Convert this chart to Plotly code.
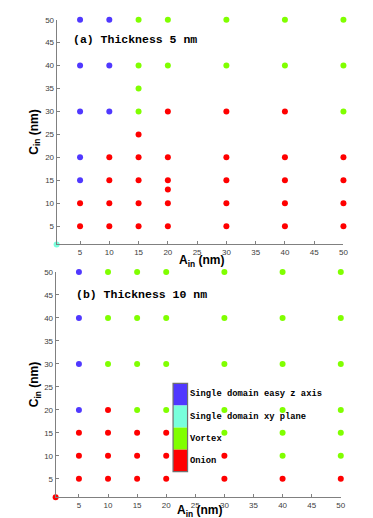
import plotly.graph_objects as go

W, H = 373, 518

# ---- data: panel (a) thickness 5 nm ----
a_easyz_x = [5, 5, 5, 5, 5, 10, 10, 10]
a_easyz_y = [50, 40, 30, 20, 15, 50, 40, 30]
a_xy_x = [1]
a_xy_y = [1]
a_vortex_x = [15, 15, 15, 15, 20, 20, 30, 30, 40, 40, 50, 50, 50]
a_vortex_y = [50, 40, 35, 30, 50, 40, 50, 40, 50, 40, 50, 40, 30]
a_onion_x = [5, 5, 10, 10, 10, 10, 15, 15, 15, 15, 15, 20, 20, 20, 20, 20, 20,
             30, 30, 30, 30, 30, 40, 40, 40, 40, 40, 50, 50, 50, 50]
a_onion_y = [10, 5, 20, 15, 10, 5, 25, 20, 15, 10, 5, 30, 20, 15, 13, 10, 5,
             30, 20, 15, 10, 5, 30, 20, 15, 10, 5, 20, 15, 10, 5]

# ---- data: panel (b) thickness 10 nm ----
b_easyz_x = [5, 5, 5, 5]
b_easyz_y = [50, 40, 30, 20]
b_xy_x = []
b_xy_y = []
b_vortex_x = [10, 10, 10, 15, 15, 15, 15, 20, 20, 20, 20, 30, 30, 30, 30, 30,
              40, 40, 40, 40, 40, 40, 50, 50, 50, 50, 50, 50]
b_vortex_y = [50, 40, 30, 50, 40, 30, 20, 50, 40, 30, 20, 50, 40, 30, 20, 15,
              50, 40, 30, 20, 15, 10, 50, 40, 30, 20, 15, 10]
b_onion_x = [1, 5, 5, 5, 10, 10, 10, 10, 15, 15, 15, 20, 20, 20, 30, 30, 40, 50]
b_onion_y = [1, 15, 10, 5, 20, 15, 10, 5, 15, 10, 5, 15, 10, 5, 10, 5, 5, 5]

tick_vals = [5, 10, 15, 20, 25, 30, 35, 40, 45, 50]
state_labels = ["Single domain easy z axis", "Single domain xy plane", "Vortex", "Onion"]
state_colors = ["#5038ff", "#78ffdc", "#80ff00", "#ff0000"]

fig = go.Figure()

def add_panel(idx, series):
    xa = "x" if idx == 1 else "x2"
    ya = "y" if idx == 1 else "y2"
    for (xs, ys), col in zip(series, state_colors):
        if not xs:
            continue
        fig.add_trace(go.Scatter(
            x=xs, y=ys, mode="markers", xaxis=xa, yaxis=ya,
            marker=dict(color=col, size=6, line=dict(width=0)),
            cliponaxis=False, showlegend=False, hoverinfo="skip"))

add_panel(1, [(a_easyz_x, a_easyz_y), (a_xy_x, a_xy_y), (a_vortex_x, a_vortex_y), (a_onion_x, a_onion_y)])
add_panel(2, [(b_easyz_x, b_easyz_y), (b_xy_x, b_xy_y), (b_vortex_x, b_vortex_y), (b_onion_x, b_onion_y)])

def px(x):
    return x / W

def py(y):
    return 1 - y / H

axis_common = dict(
    range=[1, 50], tickvals=tick_vals, ticks="inside", ticklen=3, tickcolor="#808080",
    showline=True, linecolor="#808080", linewidth=1, showgrid=False, zeroline=False,
    tickfont=dict(family="Liberation Sans", size=8, color="#404040"),
    mirror=False,
)

fig.update_layout(
    width=W, height=H, margin=dict(l=0, r=0, t=0, b=0),
    plot_bgcolor="white", paper_bgcolor="white",
    xaxis=dict(domain=[px(49.3), px(340)], anchor="y", **axis_common),
    yaxis=dict(domain=[py(234.3), py(7.8)], anchor="x", **axis_common),
    xaxis2=dict(domain=[px(48.3), px(337.3)], anchor="y2", **axis_common),
    yaxis2=dict(domain=[py(489), py(262)], anchor="x2", **axis_common),
)

anns = []
title_font = dict(family="Liberation Sans", size=12, color="black")
for cx, cy in [(196, 251), (194, 503)]:
    anns.append(dict(x=px(cx), y=py(cy), xref="paper", yref="paper", showarrow=False,
                     text="<b>A<sub>in</sub> (nm)</b>", font=title_font,
                     xanchor="center", yanchor="middle"))
for cx, cy in [(27, 121), (27, 375.5)]:
    anns.append(dict(x=px(cx), y=py(cy), xref="paper", yref="paper", showarrow=False,
                     text="<b>C<sub>in</sub> (nm)</b>", font=title_font, textangle=-90,
                     xanchor="center", yanchor="middle"))

panel_font = dict(family="Liberation Mono", size=11.5, color="black")
anns.append(dict(x=px(64), y=py(28), xref="paper", yref="paper", showarrow=False,
                 text="<b>(a) Thickness 5 nm</b>", font=panel_font, xanchor="left", yanchor="middle"))
anns.append(dict(x=px(67), y=py(285), xref="paper", yref="paper", showarrow=False,
                 text="<b>(b) Thickness 10 nm</b>", font=panel_font, xanchor="left", yanchor="middle"))

# colour key
shapes = []
x0, x1 = 167.3, 182
top, bot = 374.3, 463.3
seg = (bot - top) / len(state_colors)
for i, (lab, col) in enumerate(zip(state_labels, state_colors)):
    y0 = top + i * seg
    shapes.append(dict(type="rect", xref="paper", yref="paper",
                       x0=px(x0), x1=px(x1), y0=py(y0 + seg), y1=py(y0),
                       fillcolor=col, line=dict(width=0)))
    anns.append(dict(x=px(182), y=py(y0 + seg / 2), xref="paper", yref="paper", showarrow=False,
                     text="<b>" + lab + "</b>", font=dict(family="Liberation Mono", size=8.8, color="black"),
                     xanchor="left", yanchor="middle"))
shapes.append(dict(type="rect", xref="paper", yref="paper",
                   x0=px(x0), x1=px(x1), y0=py(bot), y1=py(top),
                   fillcolor="rgba(0,0,0,0)", line=dict(color="#707070", width=1.2)))

fig.update_layout(annotations=anns, shapes=shapes)
fig.write_html("out.html")
